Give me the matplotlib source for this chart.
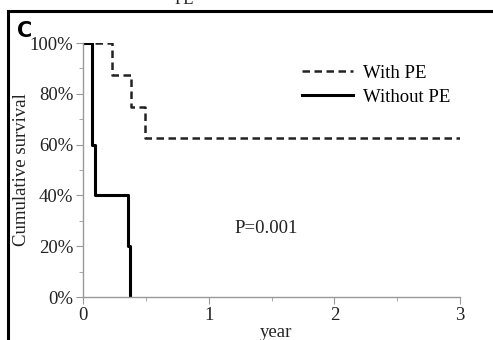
import matplotlib
matplotlib.use("Agg")
import matplotlib.pyplot as plt
from matplotlib.patches import Rectangle
from matplotlib.ticker import MultipleLocator, FuncFormatter

# Kaplan-Meier step data (time in years, survival fraction)
with_pe_t = [0, 0.23, 0.38, 0.49, 3.0]
with_pe_s = [1.0, 0.875, 0.75, 0.625, 0.625]
without_pe_t = [0, 0.07, 0.075, 0.095, 0.36, 0.375]
without_pe_s = [1.0, 0.8, 0.6, 0.4, 0.2, 0.0]

x_ticks = [0, 1, 2, 3]
y_ticks = [0, 0.2, 0.4, 0.6, 0.8, 1.0]
p_text = "P=0.001"

plt.rcParams['font.family'] = ['Liberation Serif', 'DejaVu Serif']

W, H = 493, 340
fig = plt.figure(figsize=(W / 100, H / 100), dpi=100)

# outer panel frame
fig.patches.append(Rectangle((8 / W, -0.1), 1.2, 1 - 11 / H + 0.1, transform=fig.transFigure,
                             fill=False, edgecolor='black', linewidth=2.2, zorder=0))

ax = fig.add_axes([83 / W, 1 - 297 / H, (460 - 83) / W, (297 - 43) / H])

ax.step(with_pe_t, with_pe_s, where='post', color='#222222', lw=1.8,
        linestyle=(0, (3, 1.8)), label='With PE')
ax.step(without_pe_t, without_pe_s, where='post', color='black', lw=2.2,
        label='Without PE')

ax.set_xlim(0, 3)
ax.set_ylim(0, 1)
for s in ['top', 'right']:
    ax.spines[s].set_visible(False)
for s in ['left', 'bottom']:
    ax.spines[s].set_color('#999999')
    ax.spines[s].set_linewidth(1.0)

ax.set_xticks(x_ticks)
ax.set_yticks(y_ticks)
ax.xaxis.set_minor_locator(MultipleLocator(0.5))
ax.yaxis.set_minor_locator(MultipleLocator(0.1))
ax.yaxis.set_major_formatter(FuncFormatter(lambda v, p: f"{int(round(v * 100))}%"))
ax.tick_params(which='both', colors='#999999', labelcolor='#222222', labelsize=13.5)
ax.tick_params(which='major', length=5, pad=2)
ax.tick_params(which='minor', length=3)

ax.set_ylabel('Cumulative survival', fontsize=13.5, color='#222222', labelpad=0)
ax.set_xlabel('year', fontsize=13.5, color='#222222', va='center')
ax.xaxis.set_label_coords(0.512, -0.138)

ax.legend(loc='upper right', bbox_to_anchor=(0.994, 0.945), frameon=False,
          fontsize=13.5, handlelength=2.7, handletextpad=0.55, labelspacing=0.38,
          borderaxespad=0)

ax.text(0.403, 0.27, p_text, transform=ax.transAxes, fontsize=13.5, color='#222222',
        va='center')

fig.text(17 / W, 1 - 31 / H, 'C', fontsize=15, fontweight='bold',
         family='DejaVu Sans', va='center', ha='left')
fig.text(184 / W, 1.0, 'PE', fontsize=12, color='#222222', va='center', ha='center')

fig.savefig('out.png', dpi=100)
